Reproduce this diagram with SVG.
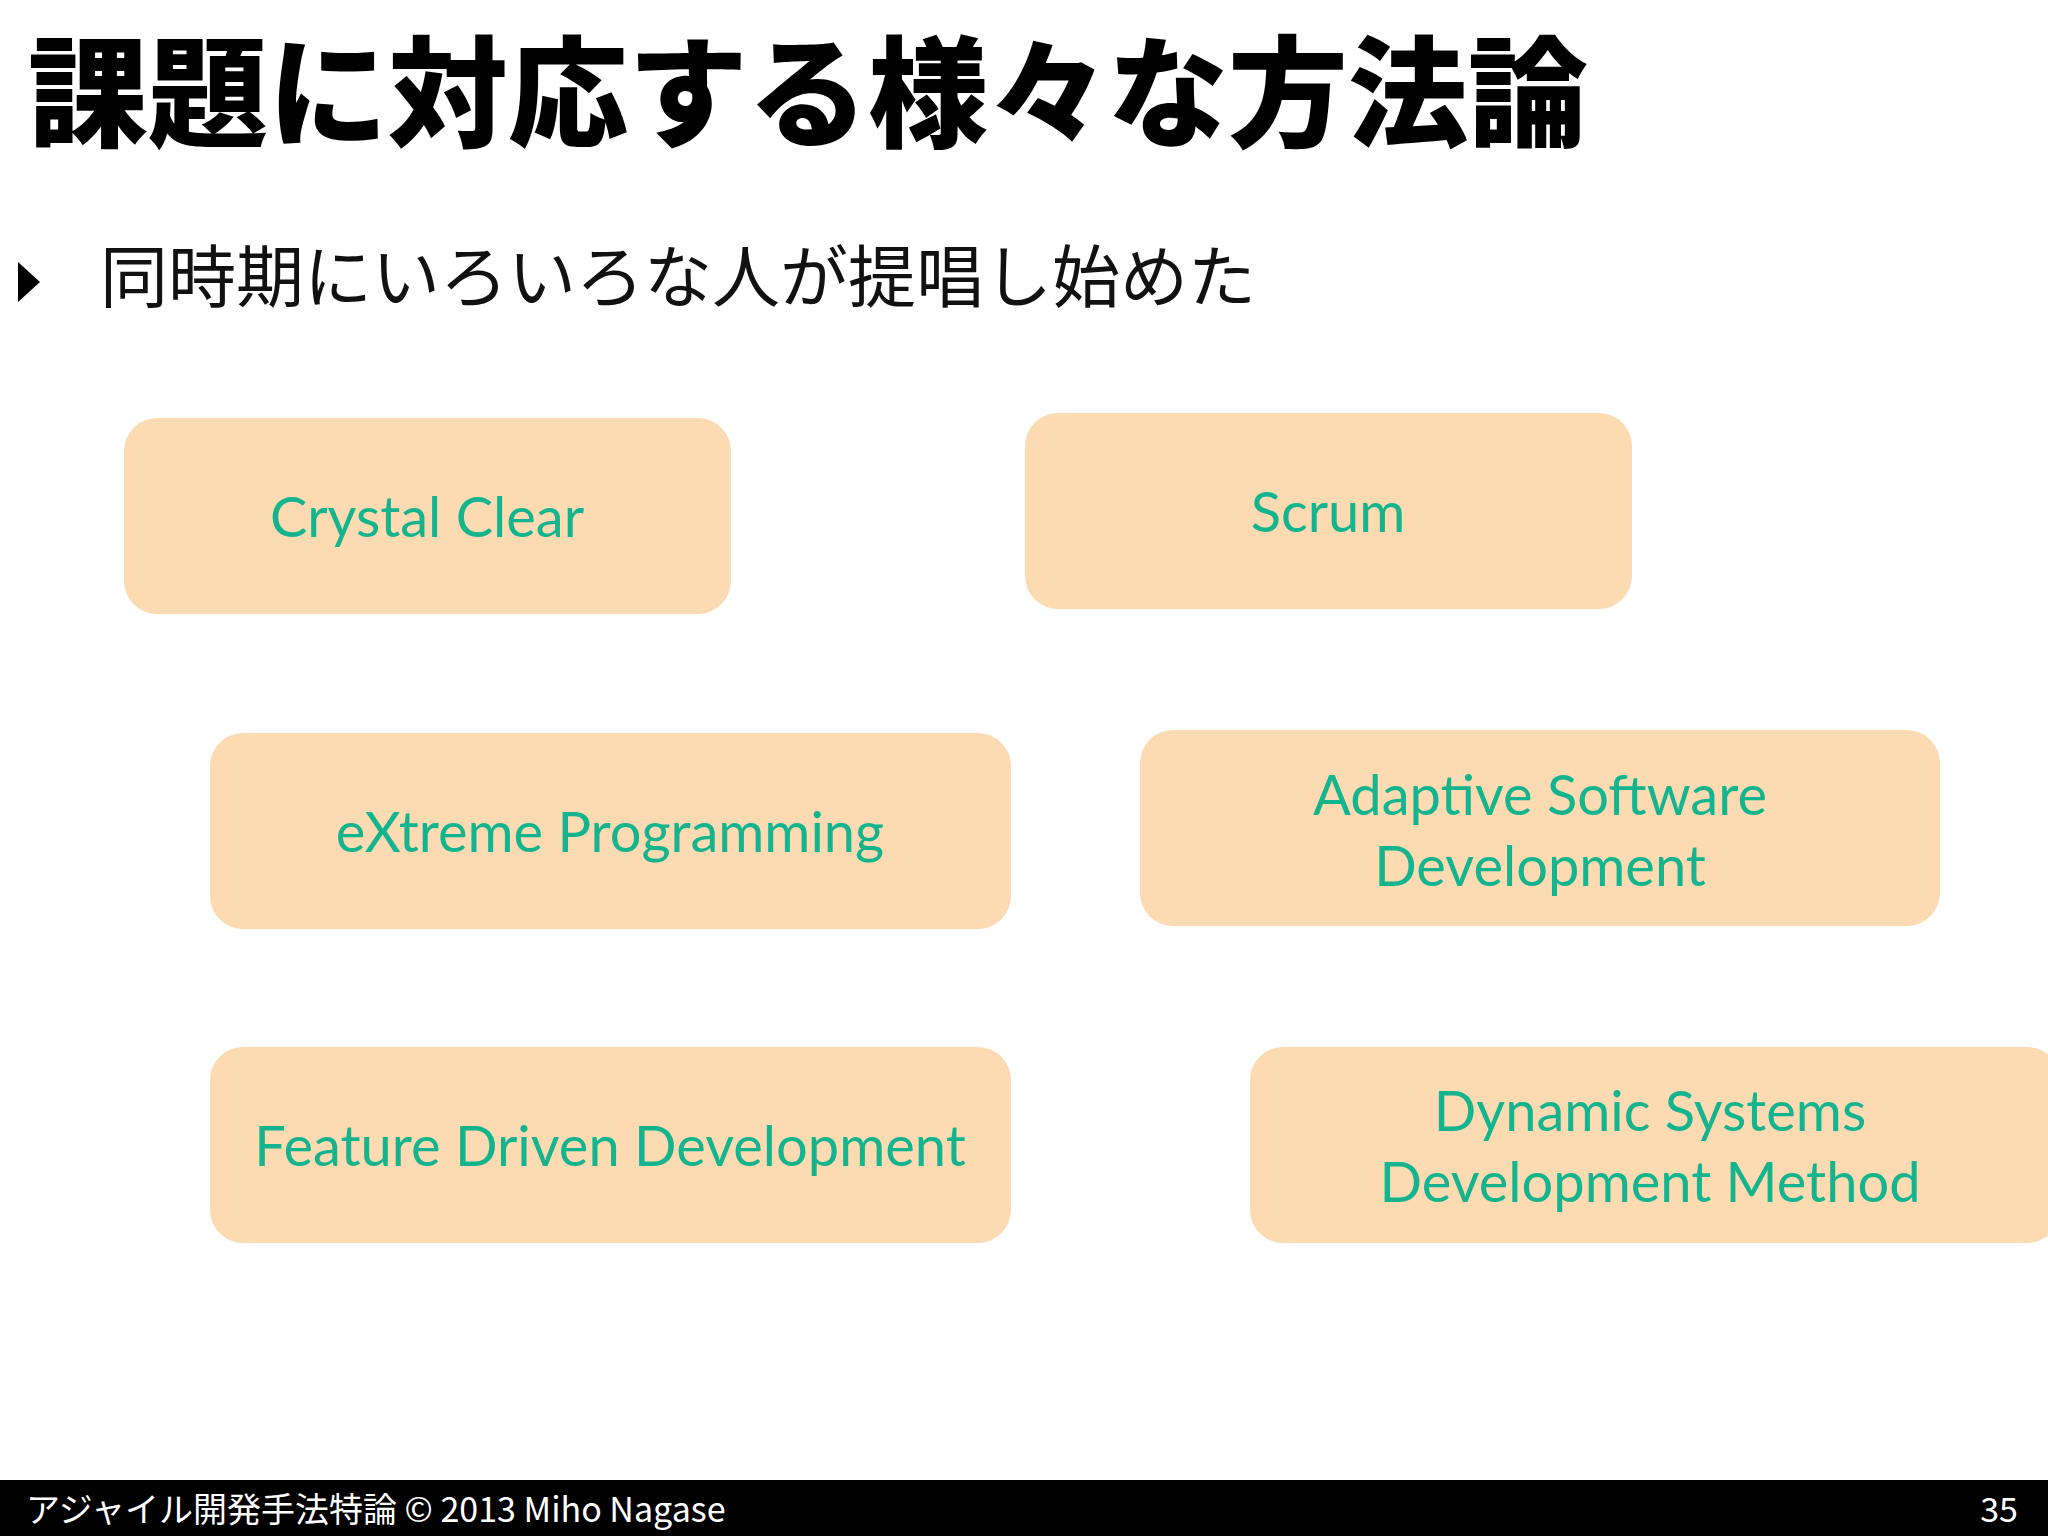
<svg xmlns="http://www.w3.org/2000/svg" width="2048" height="1536" viewBox="0 0 2048 1536">
<style>
.box{fill:#fcdbb3}
.lbl{font-family:Lato,"Open Sans",sans-serif;font-size:56px;fill:#14b48e;text-anchor:middle}
.jp{font-family:"Noto Sans CJK JP",sans-serif}
.ft{font-family:"Noto Sans CJK JP",sans-serif;font-size:34px;fill:#fff}
</style>
<rect width="2048" height="1536" fill="#fff"/>
<text x="28" y="138" class="jp" font-size="120" font-weight="900" fill="#000">課題に対応する様々な方法論</text>
<polygon points="18,262 40,282 18,302" fill="#000"/>
<text x="100" y="302" class="jp" font-size="68" fill="#111">同時期にいろいろな人が提唱し始めた</text>
<g id="crystal"><rect class="box" x="124" y="418" width="607" height="196" rx="33"/><text class="lbl" x="427" y="537">Crystal Clear</text></g>
<g id="scrum"><rect class="box" x="1025" y="413" width="607" height="196" rx="33"/><text class="lbl" x="1328" y="532">Scrum</text></g>
<g id="xp"><rect class="box" x="210" y="733" width="801" height="196" rx="33"/><text class="lbl" x="610" y="852">eXtreme Programming</text></g>
<g id="asd"><rect class="box" x="1140" y="730" width="800" height="196" rx="33"/><text class="lbl" x="1540" y="815">Adaptive Software</text><text class="lbl" x="1540" y="886">Development</text></g>
<g id="fdd"><rect class="box" x="210" y="1047" width="801" height="196" rx="33"/><text class="lbl" x="610" y="1166">Feature Driven Development</text></g>
<g id="dsdm"><rect class="box" x="1250" y="1047" width="810" height="196" rx="33"/><text class="lbl" x="1650" y="1131">Dynamic Systems</text><text class="lbl" x="1650" y="1202">Development Method</text></g>
<g id="connectors"/>
<rect x="0" y="1480" width="2048" height="56" fill="#000"/>
<text class="ft" x="26" y="1522">アジャイル開発手法特論 © 2013 Miho Nagase</text>
<text class="ft" x="2018" y="1522" text-anchor="end">35</text>
</svg>
